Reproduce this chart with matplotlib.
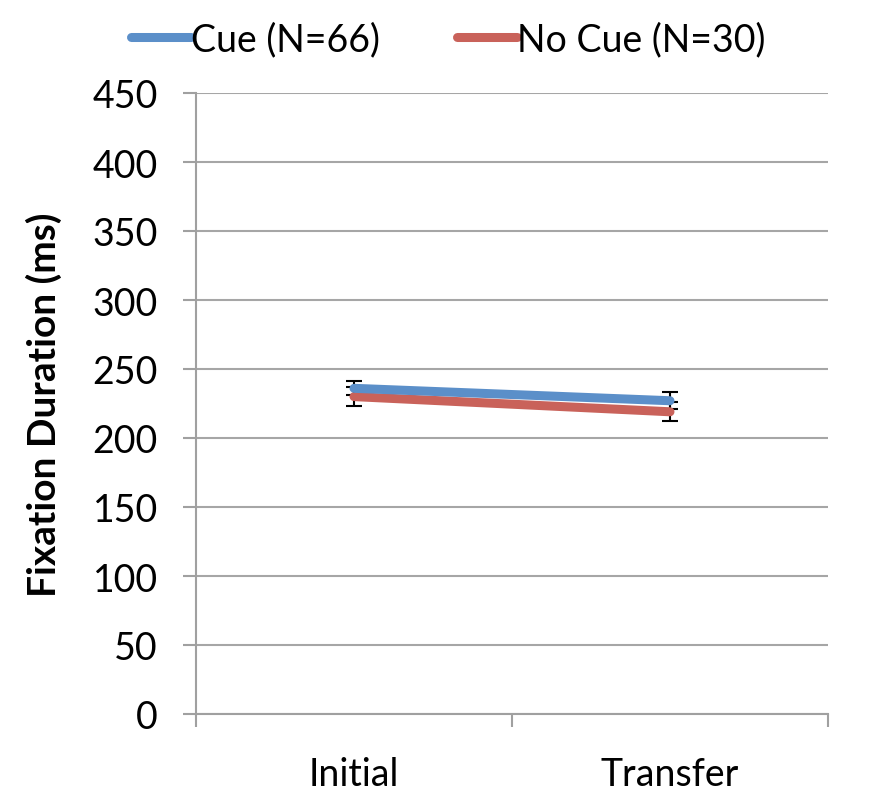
import numpy as np
import matplotlib.pyplot as plt

phases = ['Initial', 'Transfer']
cue_mean = [236, 227]
cue_err = [5, 6]
nocue_mean = [230, 219]
nocue_err = [7, 7]
yticks = np.arange(0, 451, 50)

plt.rcParams['font.family'] = ['Lato', 'DejaVu Sans']

fig = plt.figure(figsize=(8.79, 8.04), dpi=100)
ax = fig.add_axes([196/879, 89/804, 632/879, 621/804])

x = np.arange(len(phases)) + 0.5
ax.errorbar(x, cue_mean, yerr=cue_err, fmt='none', ecolor='black', elinewidth=1.5, capsize=6, capthick=1.5, zorder=2)
ax.errorbar(x, nocue_mean, yerr=nocue_err, fmt='none', ecolor='black', elinewidth=1.5, capsize=6, capthick=1.5, zorder=2)
l1, = ax.plot(x, cue_mean, color='#5B8FC9', lw=6.5, solid_capstyle='round', zorder=4, label='Cue (N=66)')
l2, = ax.plot(x, nocue_mean, color='#C9625A', lw=6.5, solid_capstyle='round', zorder=3, label='No Cue (N=30)')

ax.set_xlim(0, 2)
ax.set_ylim(0, 450)
ax.set_yticks(yticks)
ax.set_xticks([0, 1, 2])
ax.set_xticklabels([])
ax.set_xticks(x, minor=True)
ax.set_xticklabels(phases, minor=True)
ax.tick_params(axis='x', which='minor', length=0, pad=30, labelsize=27)
ax.tick_params(axis='x', which='major', length=9.5, width=1.5, color='#A0A0A0', direction='out')
ax.tick_params(axis='y', length=9.5, width=1.5, color='#A0A0A0', labelsize=27, pad=18)
ax.grid(axis='y', color='#A6A6A6', lw=1.5)
ax.set_axisbelow(True)
for s in ['top', 'right']:
    ax.spines[s].set_visible(False)
for s in ['left', 'bottom']:
    ax.spines[s].set_color('#A0A0A0')
    ax.spines[s].set_linewidth(1.5)
ax.set_ylabel('Fixation Duration (ms)', fontsize=28, fontweight='bold', labelpad=22)

fig.legend(handles=[l1, l2], loc='center', bbox_to_anchor=(0.51, 0.95), ncol=2, frameon=False,
           fontsize=27, handlelength=1.6, handletextpad=0.0, columnspacing=2.05)

fig.savefig('out.png', dpi=100)
